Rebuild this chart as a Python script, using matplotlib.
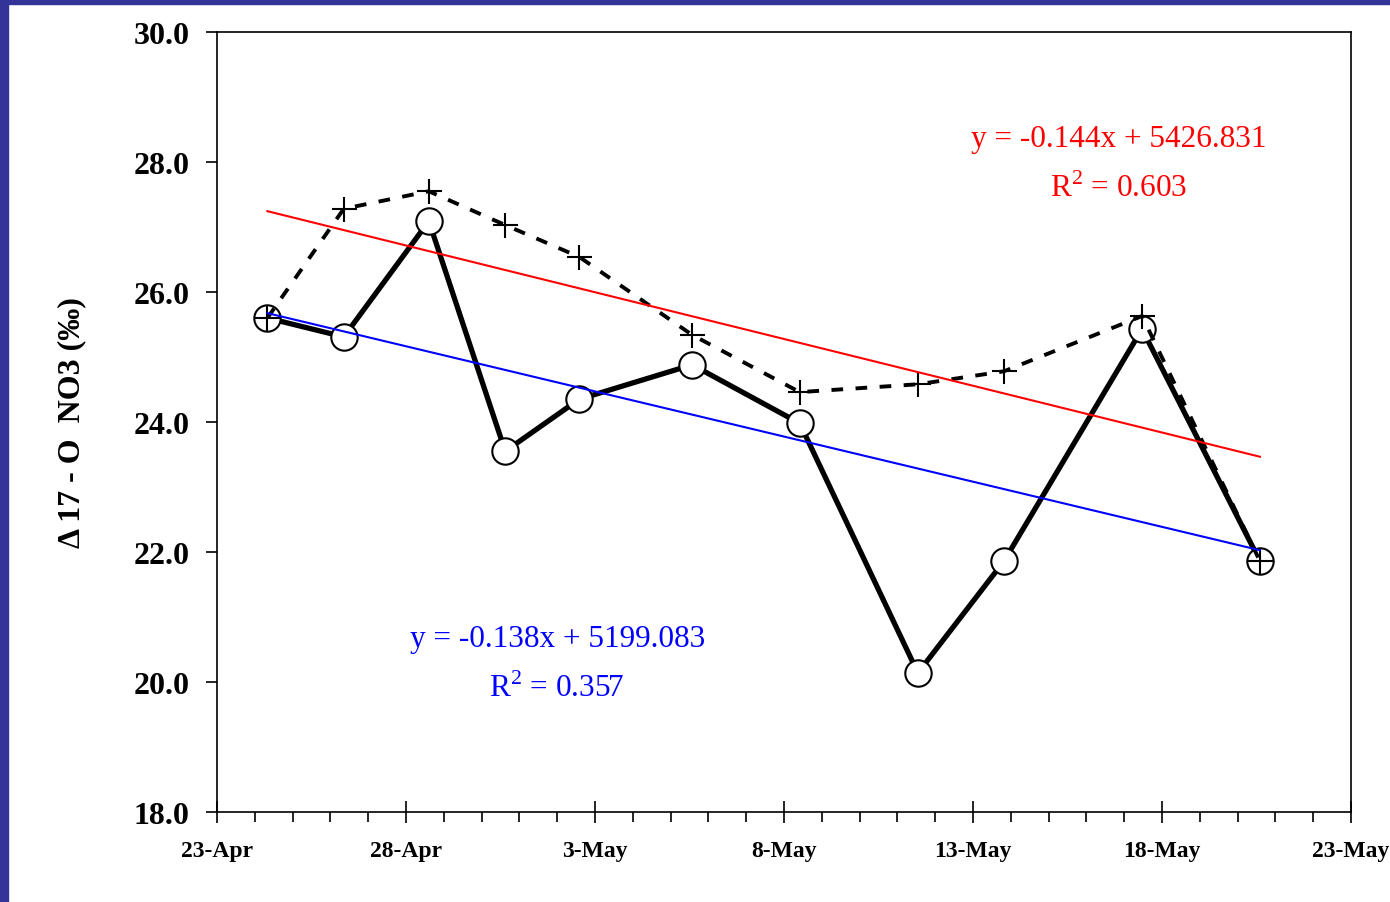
import numpy as np
import pandas as pd
import matplotlib
matplotlib.use("Agg")
import matplotlib.pyplot as plt
import matplotlib.dates as mdates
from matplotlib.patches import Rectangle

plt.rcParams['font.family'] = ['Liberation Serif', 'DejaVu Serif']
plt.rcParams['mathtext.fontset'] = 'custom'
plt.rcParams['mathtext.rm'] = 'Liberation Serif'

# sampling times
dates = ["2002-04-24 08:00", "2002-04-26 08:30", "2002-04-28 14:30", "2002-04-30 15:00",
         "2002-05-02 14:00", "2002-05-05 13:40", "2002-05-08 10:00", "2002-05-11 13:00",
         "2002-05-13 19:40", "2002-05-17 11:20", "2002-05-20 14:10"]
# solid series (circles)
d17_circle = [25.60, 25.31, 27.09, 23.55, 24.35, 24.88, 23.98, 20.14, 21.86, 25.43, 21.86]
# dashed series (plus)
d17_plus = [25.60, 27.28, 27.55, 27.03, 26.54, 25.34, 24.46, 24.58, 24.78, 25.63, 21.86]

tick_dates = ["2002-04-23", "2002-04-28", "2002-05-03", "2002-05-08",
              "2002-05-13", "2002-05-18", "2002-05-23"]
tick_labels = ["23-Apr", "28-Apr", "3-May", "8-May", "13-May", "18-May", "23-May"]
y_ticks = [18.0, 20.0, 22.0, 24.0, 26.0, 28.0, 30.0]

red_eq = ["y = -0.144x + 5426.831", r"R$^{\mathregular{2}}$ = 0.603"]
blue_eq = ["y = -0.138x + 5199.083", r"R$^{\mathregular{2}}$ = 0.357"]

x = mdates.date2num(pd.to_datetime(dates))
xt = mdates.date2num(pd.to_datetime(tick_dates))

fig = plt.figure(figsize=(13.9, 9.03), dpi=100)
fig.patch.set_facecolor('white')
# frame bars
fig.patches.append(Rectangle((0, 0), 8 / 1390, 1, transform=fig.transFigure,
                             color='#333399', zorder=0))
fig.patches.append(Rectangle((0, 1 - 5 / 903), 1, 5 / 903, transform=fig.transFigure,
                             color='#333399', zorder=0))

ax = fig.add_axes([217 / 1390, 1 - 813 / 903, (1351 - 217) / 1390, (813 - 33) / 903])

# trend lines
for yy, col in [(d17_plus, 'red'), (d17_circle, 'blue')]:
    k, b = np.polyfit(x, yy, 1)
    xx = np.array([x[0], x[-1]])
    ax.plot(xx, k * xx + b, color=col, lw=1.5, zorder=4)

ax.plot(x, d17_circle, color='black', lw=3.8, marker='o', ms=19,
        mfc='white', mec='black', mew=1.5, zorder=2)
ax.plot(x, d17_plus, color='black', lw=2.8, ls=(0, (3, 3.2)), marker='+', ms=18,
        mew=1.5, zorder=3)

ax.set_xlim(xt[0], xt[-1])
ax.set_ylim(18, 30)
ax.set_xticks(xt)
ax.set_xticklabels(tick_labels, fontsize=17, fontweight='bold')
ax.xaxis.set_minor_locator(mdates.DayLocator())
ax.set_yticks(y_ticks)
ax.set_yticklabels([f"{v:.1f}" for v in y_ticks], fontsize=23, fontweight='bold')

ax.tick_params(axis='x', which='major', direction='inout', length=16, width=1.2, pad=12)
ax.tick_params(axis='x', which='minor', direction='out', length=7, width=1.2)
ax.tick_params(axis='y', which='major', direction='out', length=8, width=1.2, pad=12)
for s in ax.spines.values():
    s.set_linewidth(1.2)

ax.set_ylabel("Δ 17 - O  NO3 (‰)", fontsize=23, fontweight='bold', labelpad=34)

ax.text(0.795, 0.863, red_eq[0], color='red', fontsize=22.5, ha='center', va='center',
        transform=ax.transAxes)
ax.text(0.795, 0.80, red_eq[1], color='red', fontsize=22.5, ha='center', va='center',
        transform=ax.transAxes)
ax.text(0.3, 0.222, blue_eq[0], color='blue', fontsize=22.5, ha='center', va='center',
        transform=ax.transAxes)
ax.text(0.3, 0.159, blue_eq[1], color='blue', fontsize=22.5, ha='center', va='center',
        transform=ax.transAxes)

fig.savefig("out.png", dpi=100)
